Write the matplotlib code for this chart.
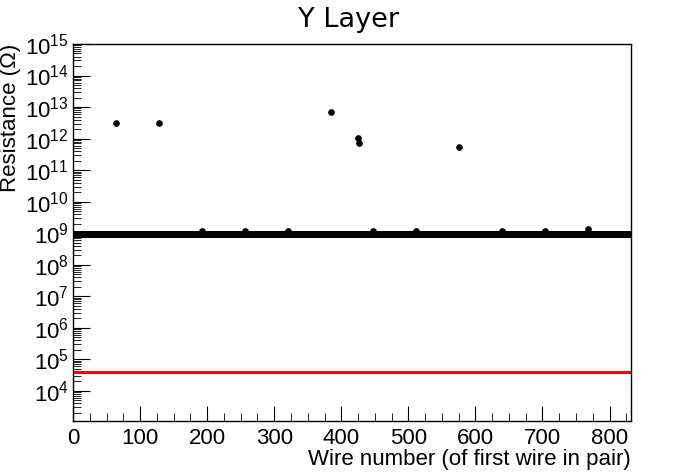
import numpy as np
import matplotlib
matplotlib.use('Agg')
import matplotlib.pyplot as plt
from matplotlib.ticker import MultipleLocator, LogLocator

plt.rcParams['font.family'] = ['Liberation Sans', 'DejaVu Sans']
plt.rcParams['mathtext.fontset'] = 'custom'
plt.rcParams['mathtext.rm'] = 'Liberation Sans'
plt.rcParams['mathtext.default'] = 'regular'

# wires 0..831, most readings saturate at ~1e9 ohm
n_wires = 832
baseline_ohm = 0.95e9

# wires reading slightly above the saturation level
bump_wires = [192, 256, 320, 448, 512, 640, 704, 768]
bump_ohm = [1.2e9, 1.2e9, 1.15e9, 1.15e9, 1.2e9, 1.15e9, 1.15e9, 1.35e9]

# high-resistance outliers
outlier_wires = [64, 128, 384, 425, 427, 576]
outlier_ohm = [3.1e12, 3.1e12, 6.8e12, 1.03e12, 7.1e11, 5.3e11]

threshold_ohm = 4.0e4

wires = np.arange(n_wires)
res = np.full(n_wires, baseline_ohm)
res[bump_wires] = bump_ohm
res[outlier_wires] = outlier_ohm

fig = plt.figure(figsize=(6.98, 4.73), dpi=100)
ax = fig.add_axes([73/698, 1-421/473, (631-73)/698, (421-44)/473])

ax.plot(wires, res, linestyle='None', marker='o', markersize=3.8, color='black')
ax.plot([0, 832], [threshold_ohm, threshold_ohm], color='red', linewidth=2.2)

ax.set_yscale('log')
ax.set_xlim(0, 832)
ax.set_ylim(1.1e3, 1e15)

ax.xaxis.set_major_locator(MultipleLocator(100))
ax.xaxis.set_minor_locator(MultipleLocator(25))
ax.yaxis.set_major_locator(LogLocator(base=10, numticks=20))
ax.yaxis.set_minor_locator(LogLocator(base=10, subs=np.arange(2, 10), numticks=200))

ax.tick_params(which='both', direction='in', top=False, right=False, labelsize=16)
ax.tick_params(axis='x', which='major', length=11, pad=5)
ax.tick_params(axis='x', which='minor', length=5.5)
ax.tick_params(axis='y', which='major', length=12, pad=3)
ax.tick_params(axis='y', which='minor', length=6)
for sp in ax.spines.values():
    sp.set_linewidth(1)

ax.set_xlabel('Wire number (of first wire in pair)', fontsize=16, loc='right', labelpad=0)
ax.set_ylabel('Resistance (Ω)', fontsize=16, loc='top', labelpad=3)
fig.suptitle('Y Layer', fontsize=19.5, family='DejaVu Sans', y=0.985)

fig.savefig('out.png', dpi=100)
